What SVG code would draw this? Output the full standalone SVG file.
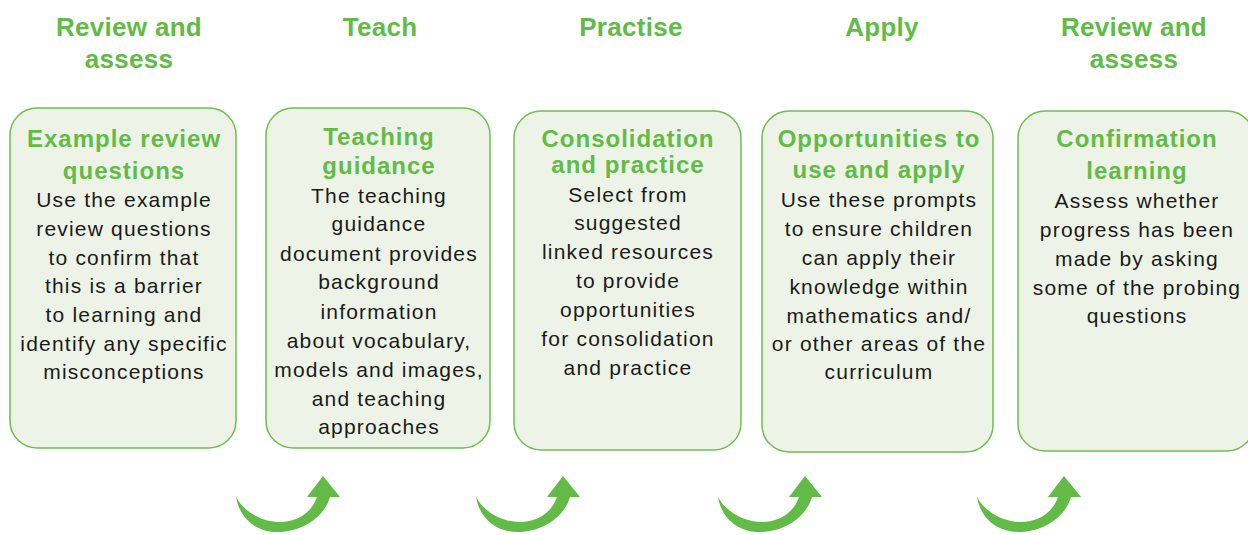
<svg xmlns="http://www.w3.org/2000/svg" width="1248" height="535" viewBox="0 0 1248 535">
<defs>
<style>
.hdr{font-family:"Liberation Sans",Arial,sans-serif;font-weight:bold;font-size:26px;fill:#62bb47;text-anchor:middle;letter-spacing:0.3px}
.ttl{font-family:"Liberation Sans",Arial,sans-serif;font-weight:bold;font-size:24px;fill:#62bb47;text-anchor:middle;letter-spacing:1px}
.bdy{font-family:"Liberation Sans",Arial,sans-serif;font-size:21px;fill:#1a1a1a;text-anchor:middle;letter-spacing:1.2px}
.box{fill:#edf4e7;stroke:#6cc04f;stroke-width:1.5}
.arr{fill:#62bb46}
</style>
<path id="arrowShape" d="M 236,497 C 240,520 258,533 280,532 C 305,531 325,515 330,497 L 340,497 L 323,476 L 307,497 L 317,497 C 312,512 298,522 280,522 C 262,522 244,512 236,497 Z"/>
</defs>
<rect width="1248" height="535" fill="#ffffff"/>

<g id="headers">
<text class="hdr" x="129" y="36">Review and</text>
<text class="hdr" x="129" y="68">assess</text>
<text class="hdr" x="380" y="36">Teach</text>
<text class="hdr" x="631" y="36">Practise</text>
<text class="hdr" x="882" y="36">Apply</text>
<text class="hdr" x="1134" y="36">Review and</text>
<text class="hdr" x="1134" y="68">assess</text>
</g>

<g id="node-review">
<rect class="box" x="10" y="108" width="226" height="340" rx="27"/>
<text class="ttl" x="124" y="147">Example review</text>
<text class="ttl" x="124" y="179">questions</text>
<text class="bdy" x="124" y="207">Use the example</text>
<text class="bdy" x="124" y="236">review questions</text>
<text class="bdy" x="124" y="265">to confirm that</text>
<text class="bdy" x="124" y="293">this is a barrier</text>
<text class="bdy" x="124" y="322">to learning and</text>
<text class="bdy" x="124" y="351">identify any specific</text>
<text class="bdy" x="124" y="379">misconceptions</text>
</g>

<g id="node-teach">
<rect class="box" x="266" y="108" width="224" height="340" rx="27"/>
<text class="ttl" x="379" y="145">Teaching</text>
<text class="ttl" x="379" y="174">guidance</text>
<text class="bdy" x="379" y="203">The teaching</text>
<text class="bdy" x="379" y="231">guidance</text>
<text class="bdy" x="379" y="261">document provides</text>
<text class="bdy" x="379" y="289">background</text>
<text class="bdy" x="379" y="319">information</text>
<text class="bdy" x="379" y="348">about vocabulary,</text>
<text class="bdy" x="379" y="377">models and images,</text>
<text class="bdy" x="379" y="406">and teaching</text>
<text class="bdy" x="379" y="434">approaches</text>
</g>

<g id="node-practise">
<rect class="box" x="514" y="111" width="227" height="339" rx="27"/>
<text class="ttl" x="628" y="147">Consolidation</text>
<text class="ttl" x="628" y="173">and practice</text>
<text class="bdy" x="628" y="202">Select from</text>
<text class="bdy" x="628" y="230">suggested</text>
<text class="bdy" x="628" y="259">linked resources</text>
<text class="bdy" x="628" y="288">to provide</text>
<text class="bdy" x="628" y="317">opportunities</text>
<text class="bdy" x="628" y="346">for consolidation</text>
<text class="bdy" x="628" y="375">and practice</text>
</g>

<g id="node-apply">
<rect class="box" x="762" y="111" width="231" height="341" rx="27"/>
<text class="ttl" x="879" y="147">Opportunities to</text>
<text class="ttl" x="879" y="178">use and apply</text>
<text class="bdy" x="879" y="207">Use these prompts</text>
<text class="bdy" x="879" y="236">to ensure children</text>
<text class="bdy" x="879" y="265">can apply their</text>
<text class="bdy" x="879" y="294">knowledge within</text>
<text class="bdy" x="879" y="323">mathematics and/</text>
<text class="bdy" x="879" y="351">or other areas of the</text>
<text class="bdy" x="879" y="379">curriculum</text>
</g>

<g id="node-confirm">
<rect class="box" x="1018" y="111" width="236" height="340" rx="27"/>
<text class="ttl" x="1137" y="147">Confirmation</text>
<text class="ttl" x="1137" y="179">learning</text>
<text class="bdy" x="1137" y="208">Assess whether</text>
<text class="bdy" x="1137" y="237">progress has been</text>
<text class="bdy" x="1137" y="266">made by asking</text>
<text class="bdy" x="1137" y="295">some of the probing</text>
<text class="bdy" x="1137" y="323">questions</text>
</g>

<g id="connectors">
<use href="#arrowShape" class="arr"/>
<use href="#arrowShape" class="arr" transform="translate(240,0)"/>
<use href="#arrowShape" class="arr" transform="translate(482,0)"/>
<use href="#arrowShape" class="arr" transform="translate(741,0)"/>
</g>
</svg>
